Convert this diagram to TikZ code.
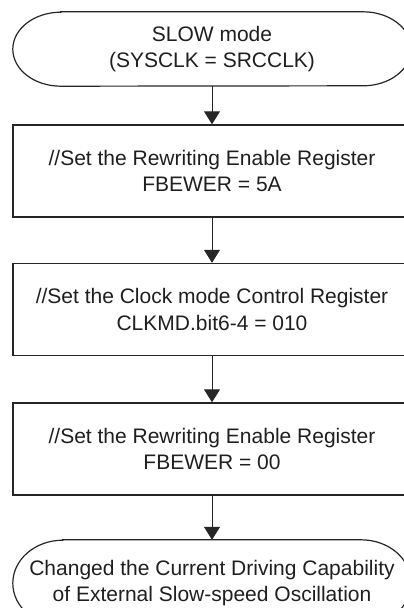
\documentclass[tikz,border=0pt]{standalone}
\usepackage{fontspec}
\setmainfont{Liberation Sans}
\usetikzlibrary{arrows.meta,calc}
\begin{document}
\begin{tikzpicture}[x=1pt,y=1pt,
  txt/.style={align=center,font=\fontsize{21}{26.5}\selectfont,text=black!88},
  stepbox/.style={txt,draw=black!85,line width=1.4pt,minimum width=398pt,minimum height=92pt,inner sep=0pt},
  term/.style={txt,minimum width=398pt,inner sep=0pt},
  termline/.style={draw=black!85,line width=1.2pt},
  flow/.style={draw=black!85,line width=1pt,-{Triangle[width=16pt,length=13pt]}}]
\clip (0,0) rectangle (404,-608);
\node[term,minimum height=74pt] (t1) at (212,-49) {SLOW mode\\(SYSCLK = SRCCLK)};
\node[stepbox] (b1) at (212,-171) {//Set the Rewriting Enable Register\\FBEWER = 5A};
\node[stepbox] (b2) at (212,-309.5) {//Set the Clock mode Control Register\\CLKMD.bit6-4 = 010};
\node[stepbox] (b3) at (212,-449) {//Set the Rewriting Enable Register\\FBEWER = 00};
\node[term,minimum height=86pt] (t2) at (212,-583) {Changed the Current Driving Capability\\of External Slow-speed Oscillation};
\draw[termline] ($(t1.north west)+(48,0)$) -- ($(t1.north east)+(-48,0)$)
  arc[start angle=90,end angle=-90,x radius=48,y radius=37]
  -- ($(t1.south west)+(48,0)$)
  arc[start angle=270,end angle=90,x radius=48,y radius=37] -- cycle;
\draw[termline] ($(t2.north west)+(50,0)$) -- ($(t2.north east)+(-50,0)$)
  arc[start angle=90,end angle=-90,x radius=50,y radius=43]
  -- ($(t2.south west)+(50,0)$)
  arc[start angle=270,end angle=90,x radius=50,y radius=43] -- cycle;
\draw[flow] (t1.south) -- (b1.north);
\draw[flow] (b1.south) -- (b2.north);
\draw[flow] (b2.south) -- (b3.north);
\draw[flow] (b3.south) -- (t2.north);
\end{tikzpicture}
\end{document}
